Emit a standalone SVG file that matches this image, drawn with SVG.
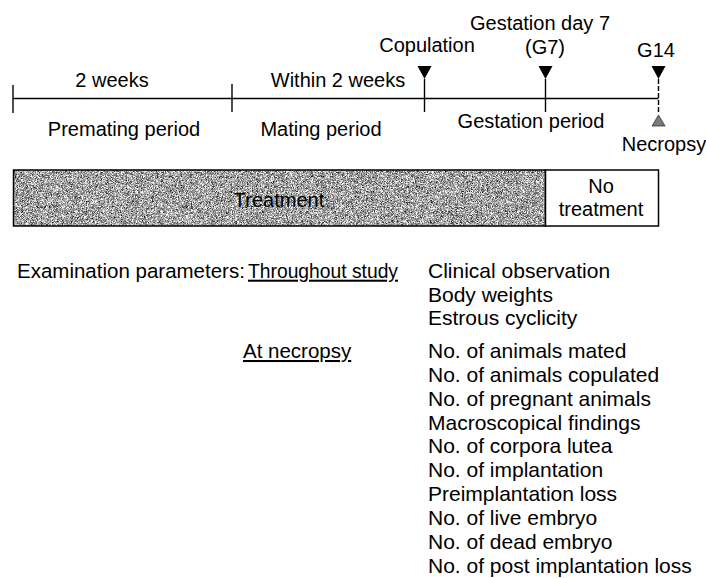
<svg xmlns="http://www.w3.org/2000/svg" width="706" height="578" viewBox="0 0 706 578">
<style>
text { font-family: "Liberation Sans", Arial, sans-serif; font-size: 20px; fill: #000; }
.m { text-anchor: middle; }
.b { font-size: 20.5px; }
.l { font-size: 21px; }
.u { text-decoration: underline; }
.ax { stroke: #000; stroke-width: 1.4; fill: none; }
.tri { fill: #000; }
</style>
<defs>
<filter id="grain" x="0" y="0" width="100%" height="100%" color-interpolation-filters="sRGB">
<feTurbulence type="fractalNoise" baseFrequency="1.8" numOctaves="1" seed="7" result="n"/>
<feColorMatrix in="n" type="saturate" values="0" result="g"/>
<feComponentTransfer in="g">
<feFuncR type="linear" slope="2.6" intercept="-0.66"/>
<feFuncG type="linear" slope="2.6" intercept="-0.66"/>
<feFuncB type="linear" slope="2.6" intercept="-0.66"/>
<feFuncA type="linear" slope="0" intercept="1"/>
</feComponentTransfer>
</filter>
</defs>
<rect width="706" height="578" fill="#fff"/>

<g id="connectors">
<line class="ax" x1="13" y1="98.5" x2="658.5" y2="98.5"/>
<line class="ax" x1="13" y1="85" x2="13" y2="113"/>
<line class="ax" x1="232" y1="84" x2="232" y2="112"/>
<line class="ax" x1="424.5" y1="79" x2="424.5" y2="112"/>
<line class="ax" x1="545.5" y1="79" x2="545.5" y2="112"/>
<line class="ax" x1="658.5" y1="79" x2="658.5" y2="113" stroke-dasharray="5 2"/>
</g>

<g id="labels-top">
<text class="m" x="112" y="87">2 weeks</text>
<text class="m" x="338" y="87">Within 2 weeks</text>
<text class="m" x="124" y="136">Premating period</text>
<text class="m" x="321" y="136">Mating period</text>
<text class="m" x="531" y="128">Gestation period</text>
</g>

<g id="copulation">
<text class="m" x="427" y="52">Copulation</text>
<path class="tri" d="M417.5,66 L431.5,66 L424.5,79 Z"/>
</g>
<g id="g7">
<text class="m" x="540" y="30">Gestation day 7</text>
<text class="m" x="545" y="54">(G7)</text>
<path class="tri" d="M538.5,66 L552.5,66 L545.5,79 Z"/>
</g>
<g id="g14">
<text class="m" x="656" y="57">G14</text>
<path class="tri" d="M651.5,66 L665.5,66 L658.5,79 Z"/>
</g>
<g id="necropsy">
<path d="M658.5,115 L665,126 L652,126 Z" fill="#7a7a7a" stroke="#333" stroke-width="0.8"/>
<text class="m" x="664" y="151">Necropsy</text>
</g>

<g id="treatment">
<rect x="13.5" y="170" width="532" height="56" fill="#999" filter="url(#grain)"/>
<rect x="13.5" y="170" width="532" height="56" fill="none" stroke="#000" stroke-width="1.5"/>
<text class="m" x="279" y="206.5" fill="#111">Treatment</text>
</g>
<g id="no-treatment">
<rect x="545.5" y="170" width="113" height="56" fill="#fff" stroke="#000" stroke-width="1.5"/>
<text class="m" x="601" y="193">No</text>
<text class="m" x="601" y="216">treatment</text>
</g>

<g id="examination">
<text class="b" x="17" y="277.7">Examination parameters:</text>
<text class="b u" x="248" y="277.7" textLength="150" lengthAdjust="spacingAndGlyphs">Throughout study</text>
<text class="l" x="428" y="277.7">Clinical observation</text>
<text class="l" x="428" y="301.5">Body weights</text>
<text class="l" x="428" y="325.4">Estrous cyclicity</text>
<text class="b u" x="243" y="358">At necropsy</text>
<text class="l" x="428" y="358">No. of animals mated</text>
<text class="l" x="428" y="381.9">No. of animals copulated</text>
<text class="l" x="428" y="405.7">No. of pregnant animals</text>
<text class="l" x="428" y="429.6">Macroscopical findings</text>
<text class="l" x="428" y="453.4">No. of corpora lutea</text>
<text class="l" x="428" y="477.3">No. of implantation</text>
<text class="l" x="428" y="501.1">Preimplantation loss</text>
<text class="l" x="428" y="525">No. of live embryo</text>
<text class="l" x="428" y="548.8">No. of dead embryo</text>
<text class="l" x="428" y="572.7">No. of post implantation loss</text>
</g>
</svg>
